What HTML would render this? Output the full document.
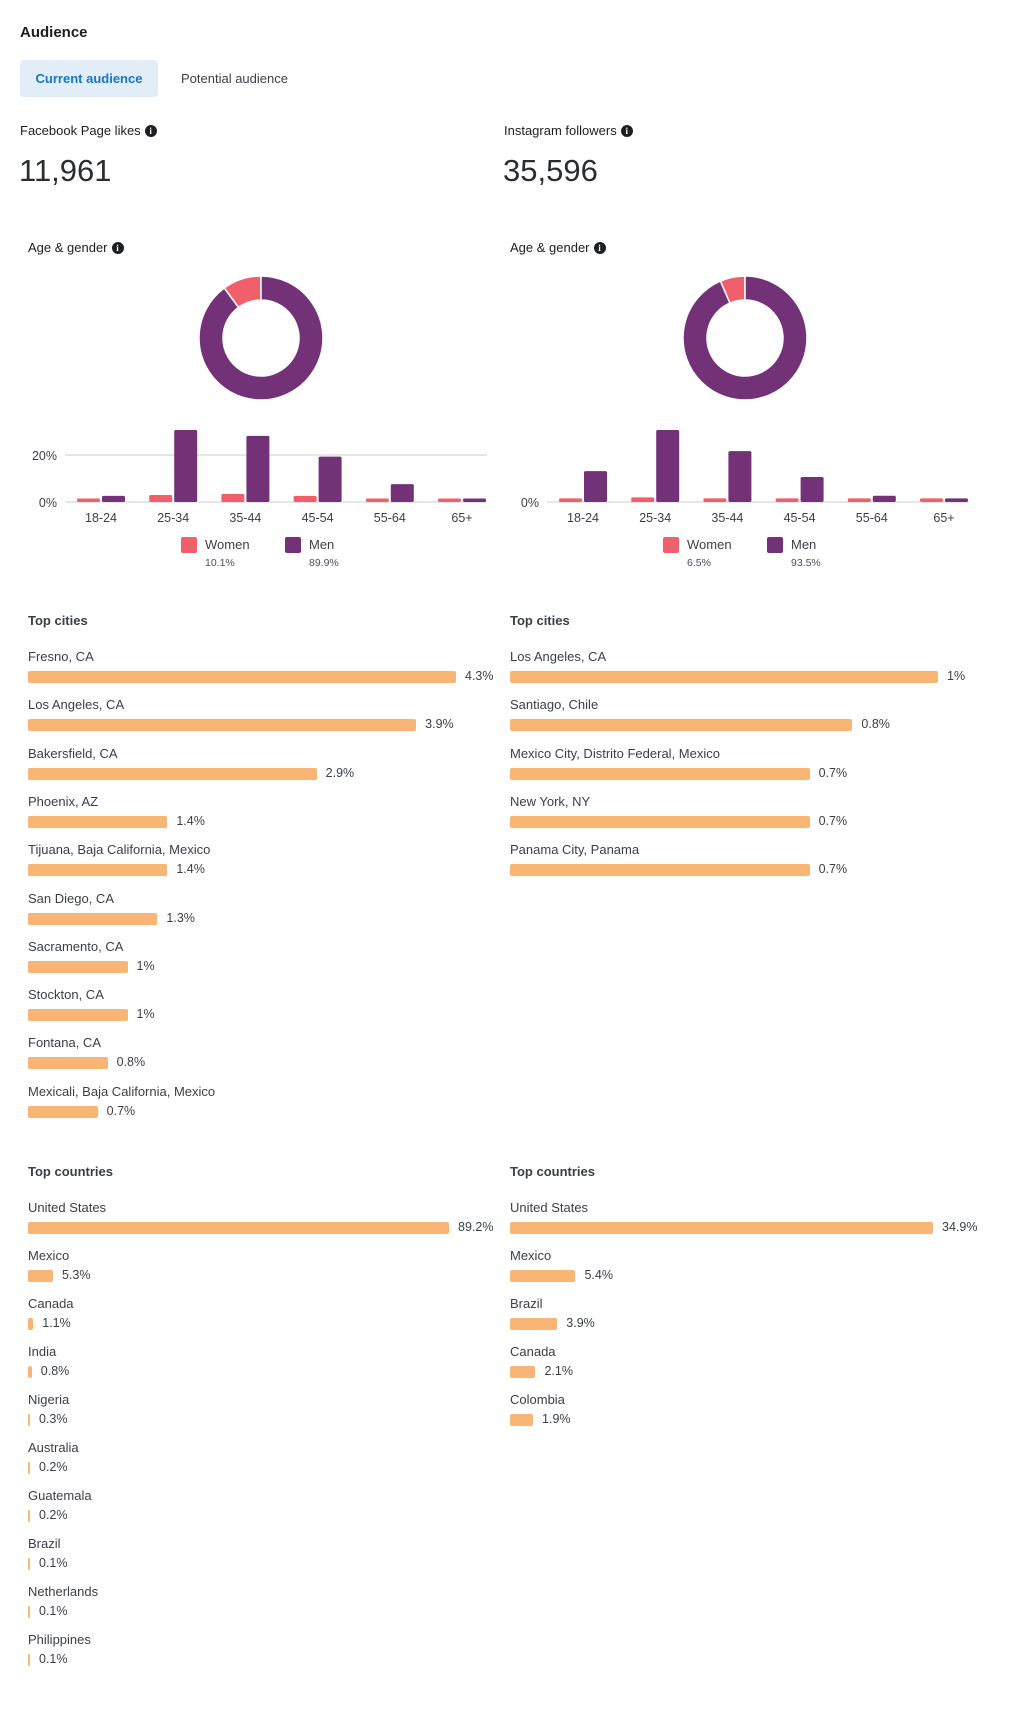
<!DOCTYPE html>
<html><head><meta charset="utf-8">
<style>
body{margin:0;width:1020px;height:1712px;background:#fff;font-family:"Liberation Sans",sans-serif;color:#1c1e21;position:relative;overflow:hidden}
.a{position:absolute;white-space:nowrap}
.lbl{font-size:13px;color:#3b3f44}
.hdr{font-size:13px;font-weight:bold;color:#3b3f44}
.info{display:inline-block;width:12px;height:12px;border-radius:50%;background:#1c1e21;color:#fff;font-size:9px;font-weight:bold;text-align:center;line-height:12px;vertical-align:1px;margin-left:4px;font-family:"Liberation Serif",serif}
.bar{position:absolute;height:12px;background:#f9b574;border-radius:2px}
</style></head><body>
<div class="a" style="left:20px;top:24px;font-size:15px;font-weight:bold;">Audience</div>
<div class="a" style="left:20px;top:60px;width:138px;height:37px;background:#e2edf7;border-radius:4px;color:#1477c8;font-weight:bold;font-size:13px;line-height:37px;text-align:center">Current audience</div>
<div class="a" style="left:181px;top:60px;height:37px;line-height:37px;font-size:13px;color:#3b3f44">Potential audience</div>
<div class="a lbl" style="left:20px;top:123px;color:#1c1e21">Facebook Page likes<span class="info">i</span></div>
<div class="a" style="left:19px;top:153px;font-size:31px;color:#2a2d31">11,961</div>
<div class="a lbl" style="left:504px;top:123px;color:#1c1e21">Instagram followers<span class="info">i</span></div>
<div class="a" style="left:503px;top:153px;font-size:31px;color:#2a2d31">35,596</div>
<div id="root"></div>
<script>
// Data
const ageCats=["18-24","25-34","35-44","45-54","55-64","65+"];
const fbWomen=[1.5,3.0,3.4,2.6,1.5,1.5];
const fbMen=[2.6,30.6,28.1,19.3,7.6,1.5];
const igWomen=[1.8,2.3,1.8,1.8,1.8,1.8];
const igMen=[15.3,35.7,25.2,12.4,3.1,1.8];
const fbGender=[10.1,89.9];
const igGender=[6.5,93.5];
const genderLabels=["Women","Men"];
const fbCities=["Fresno, CA","Los Angeles, CA","Bakersfield, CA","Phoenix, AZ","Tijuana, Baja California, Mexico","San Diego, CA","Sacramento, CA","Stockton, CA","Fontana, CA","Mexicali, Baja California, Mexico"];
const fbCityVals=[4.3,3.9,2.9,1.4,1.4,1.3,1,1,0.8,0.7];
const igCities=["Los Angeles, CA","Santiago, Chile","Mexico City, Distrito Federal, Mexico","New York, NY","Panama City, Panama"];
const igCityVals=[1,0.8,0.7,0.7,0.7];
const fbCountries=["United States","Mexico","Canada","India","Nigeria","Australia","Guatemala","Brazil","Netherlands","Philippines"];
const fbCountryVals=[89.2,5.3,1.1,0.8,0.3,0.2,0.2,0.1,0.1,0.1];
const igCountries=["United States","Mexico","Brazil","Canada","Colombia"];
const igCountryVals=[34.9,5.4,3.9,2.1,1.9];
const fbTicks=[0,20];
const igTicks=[0];

const root=document.getElementById('root');
const NS="http://www.w3.org/2000/svg";
function div(cls,style,text){const d=document.createElement('div');d.className=cls;d.style.cssText=style;if(text!==undefined)d.textContent=text;root.appendChild(d);return d;}

function section(x,y,title){
  const h=div('a hdr','left:'+x+'px;top:'+(y-8)+'px',title);
  
  
  return h;
}

function ageGender(x0,cx,women,men,gender,ticks,firstCenter){
  const t=div('a lbl','left:'+x0+'px;top:240px;color:#1c1e21','Age & gender');
  
  
  const ic=document.createElement('span');ic.className='info';ic.textContent='i';
  
  
  t.appendChild(ic);
  const svg=document.createElementNS(NS,'svg');
  svg.setAttribute('width','1020');svg.setAttribute('height','600');
  svg.style.cssText='position:absolute;left:0;top:0';
  
  
  root.appendChild(svg);
  const cy=338,R=62,r=38;
  const total=gender[0]+gender[1];
  const colors=['#f05f6a','#733278'];
  let angW=gender[0]/total*2*Math.PI;
  function arc(a0,a1,col,name){
    const p=(a,rr)=>[cx+rr*Math.sin(a),cy-rr*Math.cos(a)];
    const large=(a1-a0)>Math.PI?1:0;
    const [x1,y1]=p(a0,R),[x2,y2]=p(a1,R),[x3,y3]=p(a1,r),[x4,y4]=p(a0,r);
    const path=document.createElementNS(NS,'path');
    path.setAttribute('d',`M${x1},${y1}A${R},${R} 0 ${large} 1 ${x2},${y2}L${x3},${y3}A${r},${r} 0 ${large} 0 ${x4},${y4}Z`);
    path.setAttribute('fill',col);path.setAttribute('stroke','#fff');path.setAttribute('stroke-width','1.5');
    
    
    svg.appendChild(path);
  }
  arc(-angW,0,colors[0],'donut-slice-women');
  arc(0,2*Math.PI-angW,colors[1],'donut-slice-men');
  const base=502, maxV=Math.max(...men,...women), hScale=72/maxV, step=72.2;
  const gx1=firstCenter+step*5+25;
  ticks.forEach(tk=>{
    const yy=base-tk*hScale;
    const ln=document.createElementNS(NS,'line');
    ln.setAttribute('x1',x0===28?65:547);ln.setAttribute('x2',gx1);
    ln.setAttribute('y1',yy);ln.setAttribute('y2',yy);
    ln.setAttribute('stroke','#e6e6e6');ln.setAttribute('stroke-width','2');
    
    
    svg.appendChild(ln);
    const tx=document.createElementNS(NS,'text');
    tx.setAttribute('x',x0===28?57:539);tx.setAttribute('y',yy+5);tx.setAttribute('text-anchor','end');
    tx.setAttribute('font-size','12.5');tx.setAttribute('fill','#3b3f44');tx.setAttribute('font-family','Liberation Sans, sans-serif');
    tx.textContent=tk+'%';
    
    
    svg.appendChild(tx);
  });
  ageCats.forEach((c,i)=>{
    const cxg=firstCenter+step*i;
    [[women[i],cxg-24,colors[0],'bar-women'],[men[i],cxg+1,colors[1],'bar-men']].forEach(([v,bx,col,nm])=>{
      const h=Math.max(3,v*hScale);
      const rc=document.createElementNS(NS,'rect');
      rc.setAttribute('x',bx);rc.setAttribute('y',base-h);rc.setAttribute('width',23);rc.setAttribute('height',h);
      rc.setAttribute('rx',1.5);rc.setAttribute('fill',col);
      
      
      svg.appendChild(rc);
    });
    const tx=document.createElementNS(NS,'text');
    tx.setAttribute('x',cxg);tx.setAttribute('y',522);tx.setAttribute('text-anchor','middle');
    tx.setAttribute('font-size','12.5');tx.setAttribute('fill','#3b3f44');tx.setAttribute('font-family','Liberation Sans, sans-serif');
    tx.textContent=c;
    
    
    svg.appendChild(tx);
  });
  const lx=[x0===28?181:663, x0===28?285:767];
  genderLabels.forEach((g,i)=>{
    const sq=div('a','left:'+lx[i]+'px;top:537px;width:16px;height:16px;border-radius:2px;background:'+colors[i]);
    
    
    const lt=div('a lbl','left:'+(lx[i]+24)+'px;top:537px;font-size:13px',g);
    
    
    const pc=div('a','left:'+(lx[i]+24)+'px;top:557px;font-size:10.5px;color:#4b4f56',gender[i]+'%');
    
    
  });
}
ageGender(28,261,fbWomen,fbMen,fbGender,fbTicks,101);
ageGender(510,745,igWomen,igMen,igGender,igTicks,583);

function barList(x,y0,title,names,vals,maxW,nm,sp){
  section(x,y0,title);
  const mx=Math.max(...vals);
  names.forEach((n,i)=>{
    const ly=y0+36+i*sp;
    const l=div('a lbl','left:'+x+'px;top:'+(ly-8)+'px',n);
    
    
    const w=Math.max(2,vals[i]/mx*maxW);
    const b=div('bar','left:'+x+'px;top:'+(ly+14)+'px;width:'+w+'px');
    
    
    const v=div('a lbl','left:'+(x+w+9)+'px;top:'+(ly+12)+'px;font-size:12.5px',vals[i]+'%');
    
    
  });
}
barList(28,621,'Top cities',fbCities,fbCityVals,428,'city',48.3);
barList(510,621,'Top cities',igCities,igCityVals,428,'city',48.3);
barList(28,1172,'Top countries',fbCountries,fbCountryVals,421,'country',48.0);
barList(510,1172,'Top countries',igCountries,igCountryVals,423,'country',48.0);
</script>
</body></html>
